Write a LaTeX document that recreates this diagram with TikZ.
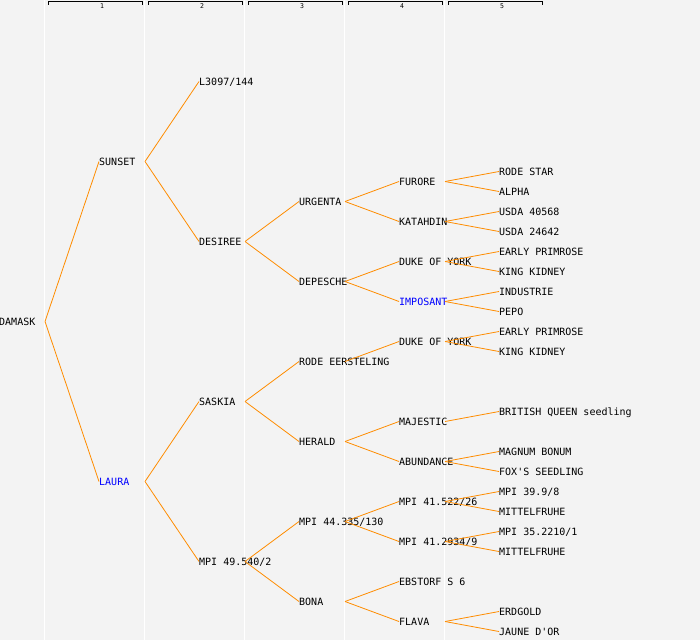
\documentclass[tikz,border=0pt]{standalone}
\usepackage{fontspec}
\setmonofont{DejaVu Sans Mono}
\definecolor{pedorange}{HTML}{FF8C00}
\definecolor{pedblue}{HTML}{0000FF}
\definecolor{pedbg}{HTML}{F3F3F3}

\begin{document}
\begin{tikzpicture}[x=1pt,y=-1pt,
    cultivar/.style={anchor=west,inner sep=0pt,text height=7.3pt,text depth=0pt,
      font=\ttfamily\fontsize{10}{12}\selectfont},
    parentline/.style={draw=pedorange,line width=0.8pt},
    gennum/.style={inner sep=0pt,font=\ttfamily\fontsize{6.5}{7}\selectfont}]
    \fill[pedbg] (0,0) rectangle (700,640);
    \useasboundingbox (0,0) rectangle (700,640);
    \foreach \i in {1,...,5} {
        \draw[white,line width=1.2pt] ({100*\i-55.5},0) -- ({100*\i-55.5},640);
        \draw[line width=0.9pt] ({100*\i-51.5},4.5) -- ({100*\i-51.5},1.5) --
            ({100*\i+42.5},1.5) -- ({100*\i+42.5},4.5);
        \node[gennum] (gen\i) at ({100*\i+2},6.5) {\i};
    }
    \node[cultivar] (damask) at (-1,321.5) {DAMASK};
    \node[cultivar] (sunset) at (99,161.5) {SUNSET};
    \node[cultivar,text=pedblue] (laura) at (99,481.5) {LAURA};
    \node[cultivar] (l3097) at (199,81.5) {L3097/144};
    \node[cultivar] (desiree) at (199,241.5) {DESIREE};
    \node[cultivar] (saskia) at (199,401.5) {SASKIA};
    \node[cultivar] (mpi49) at (199,561.5) {MPI 49.540/2};
    \node[cultivar] (urgenta) at (299,201.5) {URGENTA};
    \node[cultivar] (depesche) at (299,281.5) {DEPESCHE};
    \node[cultivar] (rodeeer) at (299,361.5) {RODE EERSTELING};
    \node[cultivar] (herald) at (299,441.5) {HERALD};
    \node[cultivar] (mpi44) at (299,521.5) {MPI 44.335/130};
    \node[cultivar] (bona) at (299,601.5) {BONA};
    \node[cultivar] (furore) at (399,181.5) {FURORE};
    \node[cultivar] (katahdin) at (399,221.5) {KATAHDIN};
    \node[cultivar] (dukeA) at (399,261.5) {DUKE OF YORK};
    \node[cultivar,text=pedblue] (imposant) at (399,301.5) {IMPOSANT};
    \node[cultivar] (dukeB) at (399,341.5) {DUKE OF YORK};
    \node[cultivar] (majestic) at (399,421.5) {MAJESTIC};
    \node[cultivar] (abundance) at (399,461.5) {ABUNDANCE};
    \node[cultivar] (mpi41a) at (399,501.5) {MPI 41.522/26};
    \node[cultivar] (mpi41b) at (399,541.5) {MPI 41.2934/9};
    \node[cultivar] (ebstorf) at (399,581.5) {EBSTORF S 6};
    \node[cultivar] (flava) at (399,621.5) {FLAVA};
    \node[cultivar] (rodestar) at (499,171.5) {RODE STAR};
    \node[cultivar] (alpha) at (499,191.5) {ALPHA};
    \node[cultivar] (usdaA) at (499,211.5) {USDA 40568};
    \node[cultivar] (usdaB) at (499,231.5) {USDA 24642};
    \node[cultivar] (earlyA) at (499,251.5) {EARLY PRIMROSE};
    \node[cultivar] (kingA) at (499,271.5) {KING KIDNEY};
    \node[cultivar] (industrie) at (499,291.5) {INDUSTRIE};
    \node[cultivar] (pepo) at (499,311.5) {PEPO};
    \node[cultivar] (earlyB) at (499,331.5) {EARLY PRIMROSE};
    \node[cultivar] (kingB) at (499,351.5) {KING KIDNEY};
    \node[cultivar] (british) at (499,411.5) {BRITISH QUEEN seedling};
    \node[cultivar] (magnum) at (499,451.5) {MAGNUM BONUM};
    \node[cultivar] (foxs) at (499,471.5) {FOX'S SEEDLING};
    \node[cultivar] (mpi39) at (499,491.5) {MPI 39.9/8};
    \node[cultivar] (mittelA) at (499,511.5) {MITTELFRUHE};
    \node[cultivar] (mpi35) at (499,531.5) {MPI 35.2210/1};
    \node[cultivar] (mittelB) at (499,551.5) {MITTELFRUHE};
    \node[cultivar] (erdgold) at (499,611.5) {ERDGOLD};
    \node[cultivar] (jaune) at (499,631.5) {JAUNE D'OR};
    \foreach \p/\c in {damask/sunset, damask/laura, sunset/l3097, sunset/desiree,
        laura/saskia, laura/mpi49, desiree/urgenta, desiree/depesche,
        saskia/rodeeer, saskia/herald, mpi49/mpi44, mpi49/bona,
        urgenta/furore, urgenta/katahdin, depesche/dukeA, depesche/imposant,
        rodeeer/dukeB, herald/majestic, herald/abundance, mpi44/mpi41a,
        mpi44/mpi41b, bona/ebstorf, bona/flava, furore/rodestar, furore/alpha,
        katahdin/usdaA, katahdin/usdaB, dukeA/earlyA, dukeA/kingA,
        imposant/industrie, imposant/pepo, dukeB/earlyB, dukeB/kingB,
        majestic/british, abundance/magnum, abundance/foxs, mpi41a/mpi39,
        mpi41a/mittelA, mpi41b/mpi35, mpi41b/mittelB, flava/erdgold, flava/jaune}
        \draw[parentline] ([xshift=46pt]\p.west) -- (\c.west);
\end{tikzpicture}
\end{document}
